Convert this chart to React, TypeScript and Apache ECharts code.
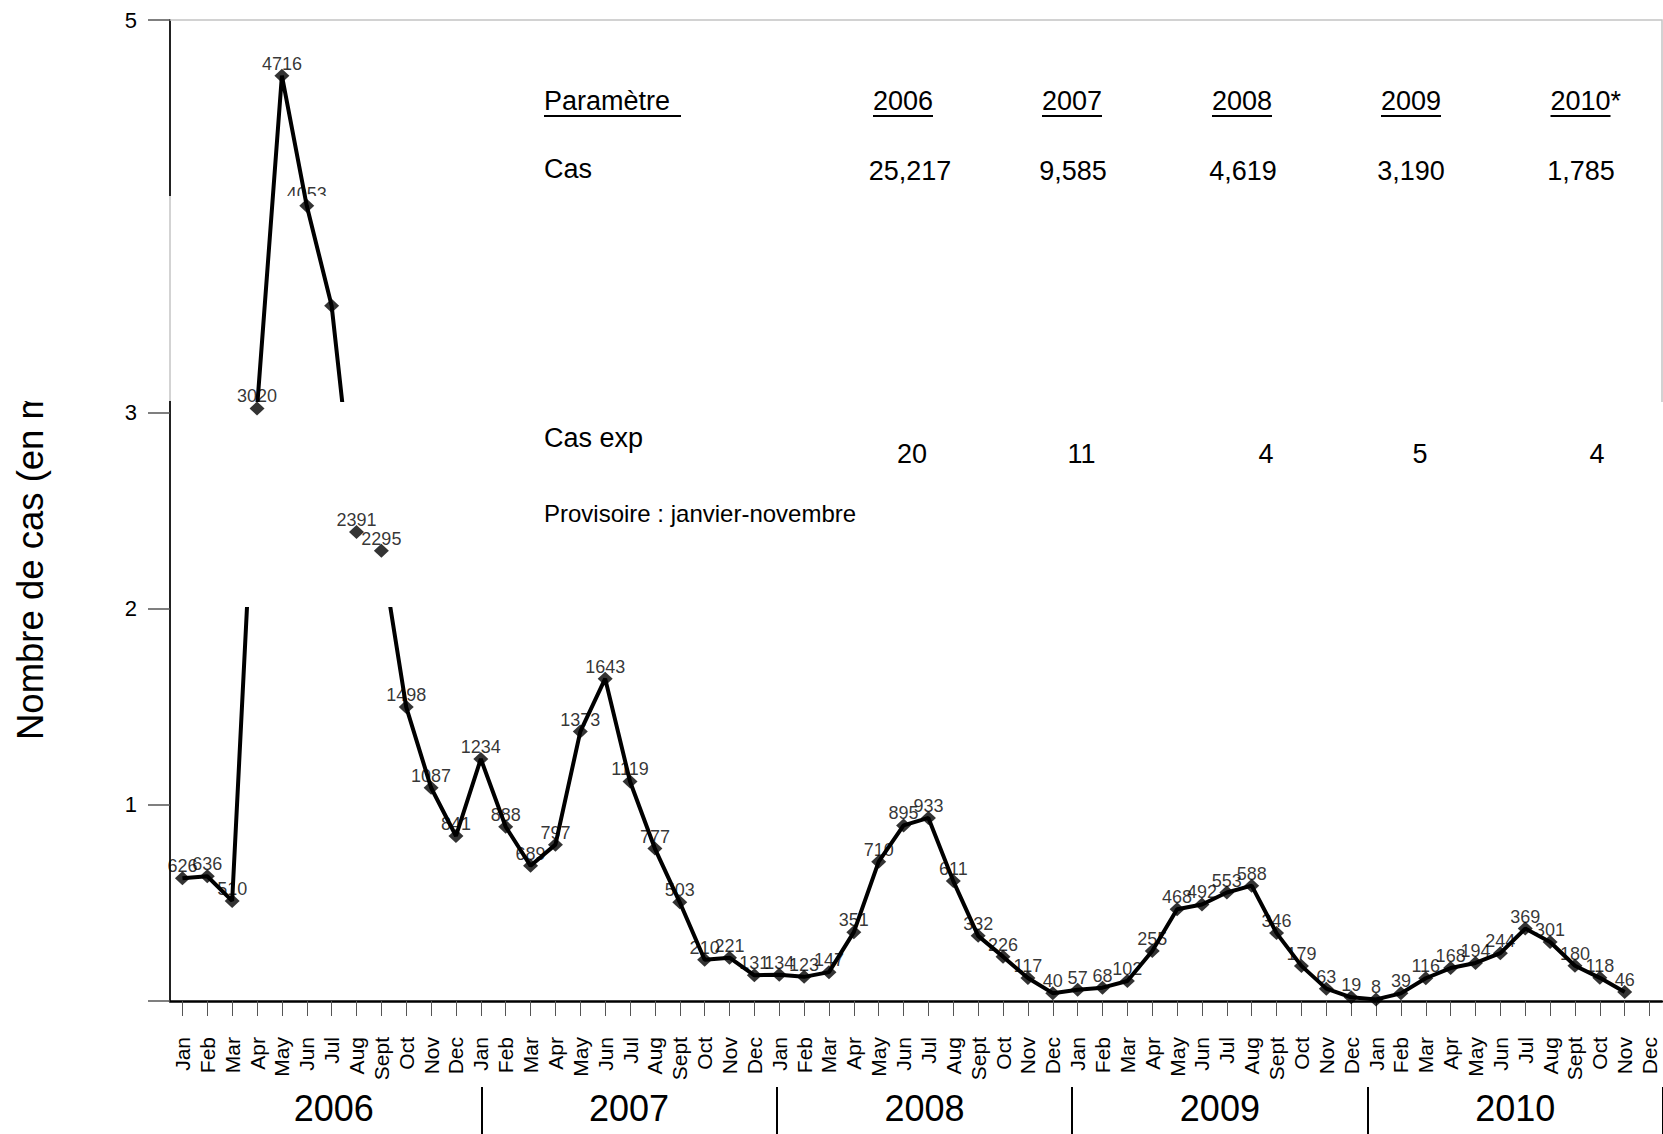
import React, { useEffect, useRef } from "react";
import * as echarts from "echarts";

// ---- data ----
const MONTHS = ["Jan", "Feb", "Mar", "Apr", "May", "Jun", "Jul", "Aug", "Sept", "Oct", "Nov", "Dec"];
const YEARS = ["2006", "2007", "2008", "2009", "2010"];
const CASES_2006 = [626, 636, 510, 3020, 4716, 4053, 3544, 2391, 2295, 1498, 1087, 841];
const CASES_2007 = [1234, 888, 689, 797, 1373, 1643, 1119, 777, 503, 210, 221, 131];
const CASES_2008 = [134, 123, 147, 351, 710, 895, 933, 611, 332, 226, 117, 40];
const CASES_2009 = [57, 68, 102, 255, 468, 492, 553, 588, 346, 179, 63, 19];
const CASES_2010 = [8, 39, 116, 168, 194, 244, 369, 301, 180, 118, 46, null];
const HIDDEN_LABEL_INDEX = [6]; // label covered in the original
const CLIPPED_LABEL_INDEX = [5]; // label half covered in the original
const Y_TICK_LABELS: Record<number, string> = { 1000: "1", 2000: "2", 3000: "3", 5000: "5" };

const TABLE_PARAM = "Paramètre ";
const TABLE_HEADER = ["2006", "2007", "2008", "2009", "2010*"];
const TABLE_ROW_CAS_LABEL = "Cas";
const TABLE_CAS = ["25,217", "9,585", "4,619", "3,190", "1,785"];
const TABLE_ROW_EXP_LABEL = "Cas exp";
const TABLE_CAS_EXP = ["20", "11", "4", "5", "4"];
const TABLE_NOTE = "Provisoire : janvier-novembre";
const Y_TITLE = "Nombre de cas (en milliers)";

// ---- layout ----
const FONT = '"Liberation Sans", Arial, Helvetica, sans-serif';
const HEADER_CX = [903, 1072, 1242, 1411, 1580.5];
const CAS_CX = [910, 1073, 1243, 1411, 1581];
const EXP_CX = [912, 1081.5, 1266, 1420, 1597];

export default function App() {
  const ref = useRef<HTMLDivElement>(null);

  useEffect(() => {
    if (!ref.current) return;
    const chart = echarts.init(ref.current, undefined, { renderer: "svg" });

    const monthLabels: string[] = [];
    YEARS.forEach(() => MONTHS.forEach((m) => monthLabels.push(m)));
    const allCases = [...CASES_2006, ...CASES_2007, ...CASES_2008, ...CASES_2009, ...CASES_2010];

    const scatterData = allCases.map((v, i) => {
      if (v == null) return null;
      if (HIDDEN_LABEL_INDEX.includes(i) || CLIPPED_LABEL_INDEX.includes(i))
        return { value: [i, v], label: { show: false } };
      return [i, v];
    });
    const clippedLabelData = allCases.map((v, i) => (v != null && CLIPPED_LABEL_INDEX.includes(i) ? [i, v] : null));

    const labelStyle = {
      show: true,
      position: "top",
      distance: 0,
      offset: [0, 4],
      fontSize: 18,
      color: "#000",
      fontFamily: FONT,
      formatter: (p: any) => String(p.value[1]),
    };

    const txt = (text: string, x: number, y: number, size: number, align = "left", extra: any = {}) => ({
      type: "text",
      z: 7,
      silent: true,
      ...extra,
      style: {
        text,
        x,
        y,
        fontSize: size,
        fontFamily: FONT,
        fill: "#000",
        textAlign: align,
        align,
        textVerticalAlign: "middle",
        verticalAlign: "middle",
      },
    });
    const uline = (x1: number, x2: number, y: number) => ({
      type: "line",
      z: 7,
      silent: true,
      shape: { x1, y1: y, x2, y2: y },
      style: { stroke: "#000", lineWidth: 2 },
    });

    const graphics: any[] = [
      // covers the lower half of one label (below the line)
      { type: "rect", z: 2, silent: true, shape: { x: 278, y: 196, width: 60, height: 20 }, style: { fill: "#fff" } },
      // band hiding the broken part of the line
      { type: "rect", z: 4, silent: true, shape: { x: 236, y: 402, width: 184, height: 205 }, style: { fill: "#fff" } },
      // axis break
      { type: "rect", z: 6, silent: true, shape: { x: 0, y: 196, width: 171.5, height: 205 }, style: { fill: "#fff" } },
      { type: "line", z: 7, silent: true, shape: { x1: 170, y1: 196, x2: 170, y2: 401 }, style: { stroke: "#c4c4c4", lineWidth: 1.5 } },
      { type: "polyline", z: 7, silent: true, shape: { points: [[170, 20], [1662, 20], [1662, 402]] }, style: { stroke: "#c4c4c4", lineWidth: 1.5, fill: "none" } },
      // y title
      {
        type: "text",
        z: 1,
        silent: true,
        x: 30,
        y: 740,
        rotation: Math.PI / 2,
        style: {
          text: Y_TITLE,
          fontSize: 36.5,
          fontFamily: FONT,
          fill: "#000",
          textAlign: "left",
          align: "left",
          textVerticalAlign: "middle",
          verticalAlign: "middle",
        },
      },
      // table
      txt(TABLE_PARAM, 544, 101, 27),
      uline(544, 681, 116),
      txt(TABLE_ROW_CAS_LABEL, 544, 169, 27),
      txt(TABLE_ROW_EXP_LABEL, 544, 437.5, 27),
      txt(TABLE_NOTE, 544, 513.5, 24),
    ];
    TABLE_HEADER.forEach((t, i) => {
      graphics.push(txt(t, HEADER_CX[i] - 30, 101, 27));
      graphics.push(uline(HEADER_CX[i] - 30, HEADER_CX[i] + 30, 116));
    });
    TABLE_CAS.forEach((t, i) => graphics.push(txt(t, CAS_CX[i], 171, 27, "center")));
    TABLE_CAS_EXP.forEach((t, i) => graphics.push(txt(t, EXP_CX[i], 453.5, 27, "center")));

    const option: any = {
      animation: false,
      backgroundColor: "#fff",
      textStyle: { fontFamily: FONT },
      grid: [
        { left: 170, top: 20, width: 1492, height: 981 },
        { left: 186, top: 20, width: 1492, height: 1067 },
      ],
      xAxis: [
        {
          type: "category",
          gridIndex: 0,
          data: monthLabels,
          boundaryGap: true,
          axisLine: { show: true, onZero: false, lineStyle: { color: "#000", width: 2.5 } },
          axisTick: { show: true, alignWithLabel: true, interval: 0, length: 15, lineStyle: { color: "#555", width: 1 } },
          axisLabel: { interval: 0, rotate: 90, margin: 36, fontSize: 21, color: "#000", fontFamily: FONT },
          splitLine: { show: false },
        },
        {
          type: "category",
          gridIndex: 1,
          data: YEARS,
          position: "bottom",
          boundaryGap: true,
          axisLine: { show: false, onZero: false },
          axisTick: { show: true, interval: (i: number) => i > 0, length: 48, lineStyle: { color: "#000", width: 2 } },
          axisLabel: { interval: 0, margin: 3, fontSize: 36, color: "#000", fontFamily: FONT },
          splitLine: { show: false },
        },
      ],
      yAxis: [
        {
          type: "value",
          gridIndex: 0,
          min: 0,
          max: 5000,
          interval: 1000,
          axisLine: { show: true, lineStyle: { color: "#222", width: 2 } },
          axisTick: { show: true, length: 22, lineStyle: { color: "#555", width: 1.5 } },
          axisLabel: {
            formatter: (v: number) => Y_TICK_LABELS[v] ?? "",
            margin: 33,
            fontSize: 22,
            color: "#000",
            fontFamily: FONT,
          },
          splitLine: { show: false },
        },
        { type: "value", gridIndex: 1, show: false, min: 0, max: 5000 },
      ],
      series: [
        {
          type: "scatter",
          xAxisIndex: 0,
          yAxisIndex: 0,
          data: clippedLabelData,
          symbol: "diamond",
          symbolSize: [15, 14],
          itemStyle: { color: "#000" },
          label: labelStyle,
          z: 1,
          silent: true,
        },
        {
          type: "line",
          xAxisIndex: 0,
          yAxisIndex: 0,
          data: allCases,
          symbol: "none",
          showSymbol: false,
          connectNulls: false,
          lineStyle: { color: "#000", width: 4 },
          z: 3,
          silent: true,
        },
        {
          type: "scatter",
          xAxisIndex: 0,
          yAxisIndex: 0,
          data: scatterData,
          symbol: "diamond",
          symbolSize: [15, 14],
          itemStyle: { color: "#000" },
          label: labelStyle,
          z: 5,
          silent: true,
        },
      ],
      graphic: graphics,
    };

    chart.setOption(option);
    return () => chart.dispose();
  }, []);

  return (
    <div
      ref={ref}
      style={{ position: "fixed", left: 0, top: 0, width: "1663px", height: "1134px", background: "#fff" }}
    />
  );
}
